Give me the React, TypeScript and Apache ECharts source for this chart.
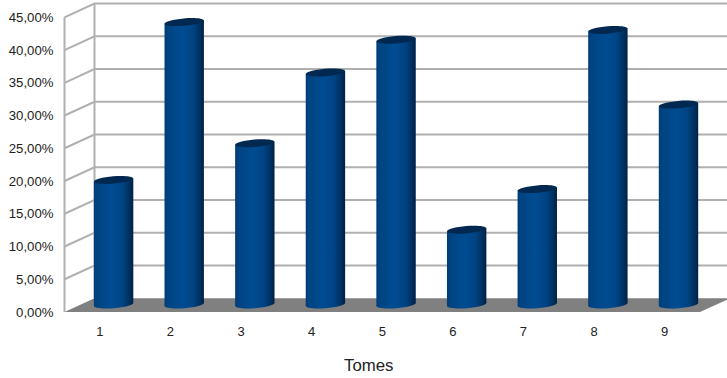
import React, { useEffect, useRef } from "react";
import * as echarts from "echarts";

const categories = ["1", "2", "3", "4", "5", "6", "7", "8", "9"];
const shares = [19.1, 43.2, 24.7, 35.5, 40.5, 11.5, 17.7, 42.0, 30.6];
const gridTicks = [0, 5, 10, 15, 20, 25, 30, 35, 40, 45];
const axisTitle = "Tomes";

const DEPTH_X = 30;
const DEPTH_Y = 13.7;
const FONT = '"Liberation Sans", Arial, sans-serif';
const GRID_COLOR = "#b0b0b0";

export default function App() {
  const ref = useRef<HTMLDivElement>(null);
  useEffect(() => {
    const chart = echarts.init(ref.current!, null, { renderer: "svg" });
    const lineStyle = { stroke: GRID_COLOR, lineWidth: 2, fill: "none" };
    chart.setOption({
      animation: false,
      backgroundColor: "#ffffff",
      title: {
        text: axisTitle,
        left: 344,
        top: 357,
        padding: 0,
        textAlign: "left",
        textStyle: { fontFamily: FONT, fontSize: 16.8, fontWeight: "normal", color: "#222222" },
      },
      grid: { left: 64.5, right: 27, top: 17.3, bottom: 66, containLabel: false, outerBoundsMode: "none" },
      xAxis: {
        type: "category",
        data: categories,
        axisLine: { show: false },
        axisTick: { show: false },
        axisLabel: { fontFamily: FONT, fontSize: 13, color: "#222222", margin: 13 },
      },
      yAxis: {
        type: "value",
        min: 0,
        max: 45,
        interval: 5,
        splitLine: { show: false },
        axisLine: { show: false },
        axisTick: { show: false },
        axisLabel: {
          fontFamily: FONT,
          fontSize: 13.2,
          color: "#222222",
          margin: 11,
          formatter: (v: number) => v.toFixed(2).replace(".", ",") + "%",
        },
      },
      series: [
        {
          type: "custom",
          silent: true,
          clip: false,
          z: 1,
          data: gridTicks.map((t) => [0, t]),
          encode: { x: 0, y: 1 },
          renderItem: (params: any, api: any) => {
            const cs = params.coordSys;
            const y = api.coord([0, api.value(1)])[1];
            const x0 = cs.x;
            const x1 = cs.x + DEPTH_X;
            const x2 = cs.x + cs.width + DEPTH_X;
            const children: any[] = [];
            if (api.value(1) > 0) {
              children.push({
                type: "polyline",
                shape: { points: [[x0, y], [x1, y - DEPTH_Y], [x2, y - DEPTH_Y]] },
                style: lineStyle,
              });
            }
            if (params.dataIndex === 0) {
              const top = api.coord([0, 45])[1];
              children.push({
                type: "line",
                shape: { x1: x0, y1: top, x2: x0, y2: y },
                style: lineStyle,
              });
              children.push({
                type: "line",
                shape: { x1, y1: top - DEPTH_Y, x2: x1, y2: y - DEPTH_Y },
                style: lineStyle,
              });
              children.push({
                type: "polygon",
                shape: {
                  points: [
                    [x0, y],
                    [cs.x + cs.width, y],
                    [x2, y - DEPTH_Y],
                    [x1, y - DEPTH_Y],
                  ],
                },
                style: { fill: "#808080" },
              });
            }
            return { type: "group", children };
          },
        },
        {
          type: "custom",
          silent: true,
          clip: false,
          z: 2,
          data: shares.map((s, i) => [i, s]),
          encode: { x: 0, y: 1 },
          renderItem: (_params: any, api: any) => {
            const p = api.coord([api.value(0), api.value(1)]);
            const base = api.coord([api.value(0), 0]);
            const cx = p[0] + 13.8;
            const yTop = p[1] - 7;
            const yBot = base[1] - 7.5;
            const rx = 19.7;
            const ry = 3.7;
            const tilt = 0.08;
            const dy = rx * tilt;
            const body = new echarts.graphic.LinearGradient(0, 0, 1, 0, [
              { offset: 0, color: "#003d78" },
              { offset: 0.1, color: "#004482" },
              { offset: 0.45, color: "#004c92" },
              { offset: 0.72, color: "#004484" },
              { offset: 0.9, color: "#003060" },
              { offset: 1, color: "#002145" },
            ]);
            return {
              type: "group",
              children: [
                {
                  type: "ellipse",
                  x: cx,
                  y: yBot,
                  rotation: tilt,
                  shape: { cx: 0, cy: 0, rx, ry },
                  style: { fill: body },
                },
                {
                  type: "polygon",
                  shape: {
                    points: [
                      [cx - rx, yTop + dy],
                      [cx + rx, yTop - dy],
                      [cx + rx, yBot - dy],
                      [cx - rx, yBot + dy],
                    ],
                  },
                  style: { fill: body },
                },
                {
                  type: "ellipse",
                  x: cx,
                  y: yTop,
                  rotation: tilt,
                  shape: { cx: 0, cy: 0, rx, ry },
                  style: { fill: "#002850" },
                },
              ],
            };
          },
        },
      ],
    });
    return () => chart.dispose();
  }, []);
  return (
    <div
      ref={ref}
      style={{ position: "fixed", left: 0, top: 0, width: 727, height: 378 }}
    />
  );
}
